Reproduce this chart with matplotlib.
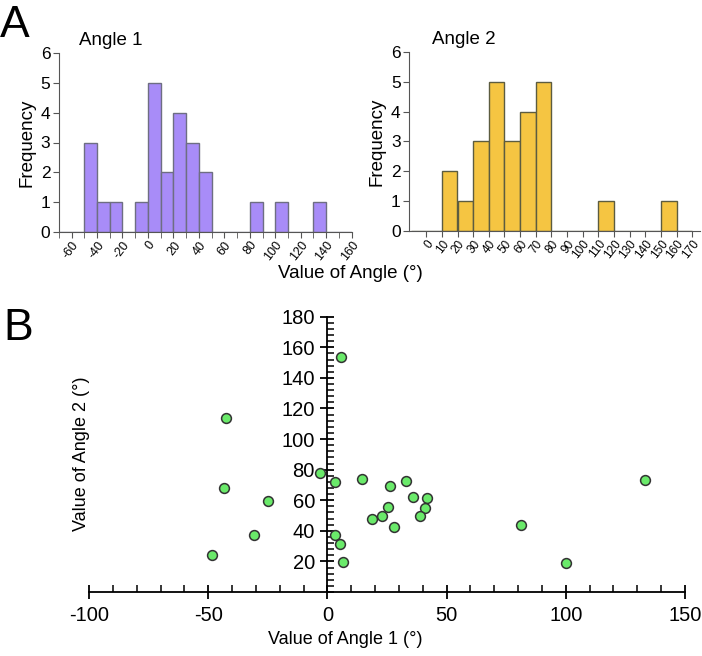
import numpy as np
import matplotlib
matplotlib.use("Agg")
import matplotlib.pyplot as plt
from matplotlib.ticker import MultipleLocator

plt.rcParams["font.family"] = ["Liberation Sans", "DejaVu Sans"]
plt.rcParams["axes.unicode_minus"] = False

# Angle pairs
angle1 = [5.9, -42.6, -3.2, 3.3, -43.3, -24.9, -30.8, 3.3, 5.4, 6.6, -48.6,
          14.7, 33.0, 26.4, 35.9, 41.9, 25.3, 41.1, 22.8, 18.7, 38.8, 27.9,
          81.2, 100.2, 133.2]
angle2 = [153.9, 113.6, 77.7, 71.8, 67.9, 59.5, 37.4, 37.4, 31.5, 19.4, 24.4,
          73.8, 72.9, 69.2, 62.0, 61.6, 55.9, 55.1, 49.5, 47.7, 49.4, 42.2,
          43.5, 19.0, 73.2]

bins1 = np.arange(-70, 170, 10)
bins2 = np.arange(-10, 180, 10)

purple = "#a88cf8"
yellow = "#f5c542"
green = "#6aea6a"

fig = plt.figure(figsize=(7.02, 6.56), dpi=100)
W, H = 702, 656


def px_axes(left, right, top, bottom):
    return fig.add_axes([left / W, 1 - bottom / H, (right - left) / W, (bottom - top) / H])


def style_hist(ax):
    for s in ["top", "right"]:
        ax.spines[s].set_visible(False)
    ax.spines["left"].set_color("#555555")
    ax.spines["bottom"].set_color("#555555")
    ax.set_ylim(0, 6)
    ax.set_yticks(range(0, 7))
    ax.tick_params(axis="y", labelsize=12.5, length=4, color="#555555", pad=2)
    ax.tick_params(axis="x", which="both", labelsize=9, length=4, color="#555555", pad=1)
    ax.set_ylabel("Frequency", fontsize=13.5, labelpad=4)
    for lab in ax.get_xticklabels():
        lab.set_rotation(52)
        lab.set_ha("right")
        lab.set_rotation_mode("anchor")


# Histogram of angle 1
ax1 = px_axes(58.8, 351.7, 53, 232)
ax1.hist(angle1, bins=bins1, color=purple, edgecolor="#6e6e82", linewidth=1)
ax1.set_xlim(-70, 160)
ax1.set_xticks(np.arange(-60, 170, 20))
ax1.xaxis.set_minor_locator(MultipleLocator(10))
style_hist(ax1)
ax1.set_title("Angle 1", fontsize=13.5, loc="left", x=0.07, y=1.0, pad=6)

# Histogram of angle 2
ax2 = px_axes(409, 700, 52, 231)
ax2.hist(angle2, bins=bins2, color=yellow, edgecolor="#5c5c40", linewidth=1)
ax2.set_xlim(-11, 175)
ax2.set_xticks(np.arange(0, 180, 10))
style_hist(ax2)
ax2.tick_params(axis="x", labelsize=8.5)
ax2.set_title("Angle 2", fontsize=13.5, loc="left", x=0.08, y=1.0, pad=6)

fig.text(350 / W, 1 - 273 / H, "Value of Angle (°)", fontsize=13.5, ha="center", va="center")
fig.text(0, 1 - 37 / H, "A", fontsize=32, ha="left", va="baseline")
fig.text(3 / W, 1 - 340 / H, "B", fontsize=32, ha="left", va="baseline")

# Scatter of angle 1 vs angle 2
ax3 = px_axes(89, 685, 316.7, 592)
ax3.scatter(angle1, angle2, s=50, color=green, edgecolor="#333333", linewidth=1.1, zorder=3,
            clip_on=False)
ax3.set_xlim(-100, 150)
ax3.set_ylim(0, 180)
ax3.spines["left"].set_position(("data", 0))
ax3.spines["bottom"].set_position(("data", 0))
for s in ["top", "right"]:
    ax3.spines[s].set_visible(False)
ax3.spines["left"].set_linewidth(1.3)
ax3.spines["bottom"].set_linewidth(1.3)
ax3.set_xticks(np.arange(-100, 151, 50))
ax3.set_yticks(np.arange(20, 181, 20))
ax3.xaxis.set_minor_locator(MultipleLocator(10))
ax3.yaxis.set_minor_locator(MultipleLocator(4))
ax3.tick_params(which="major", direction="inout", length=10, width=1.3, labelsize=14.5)
ax3.tick_params(which="minor", direction="in", length=5, width=1.1)
ax3.tick_params(axis="x", which="major", pad=5)
ax3.tick_params(axis="y", which="major", pad=4)

fig.text(345 / W, 1 - 640 / H, "Value of Angle 1 (°)", fontsize=13, ha="center", va="center")
fig.text(82 / W, 1 - 454 / H, "Value of Angle 2 (°)", fontsize=13, ha="center", va="center",
         rotation=90)

fig.savefig("out.png", dpi=100)
